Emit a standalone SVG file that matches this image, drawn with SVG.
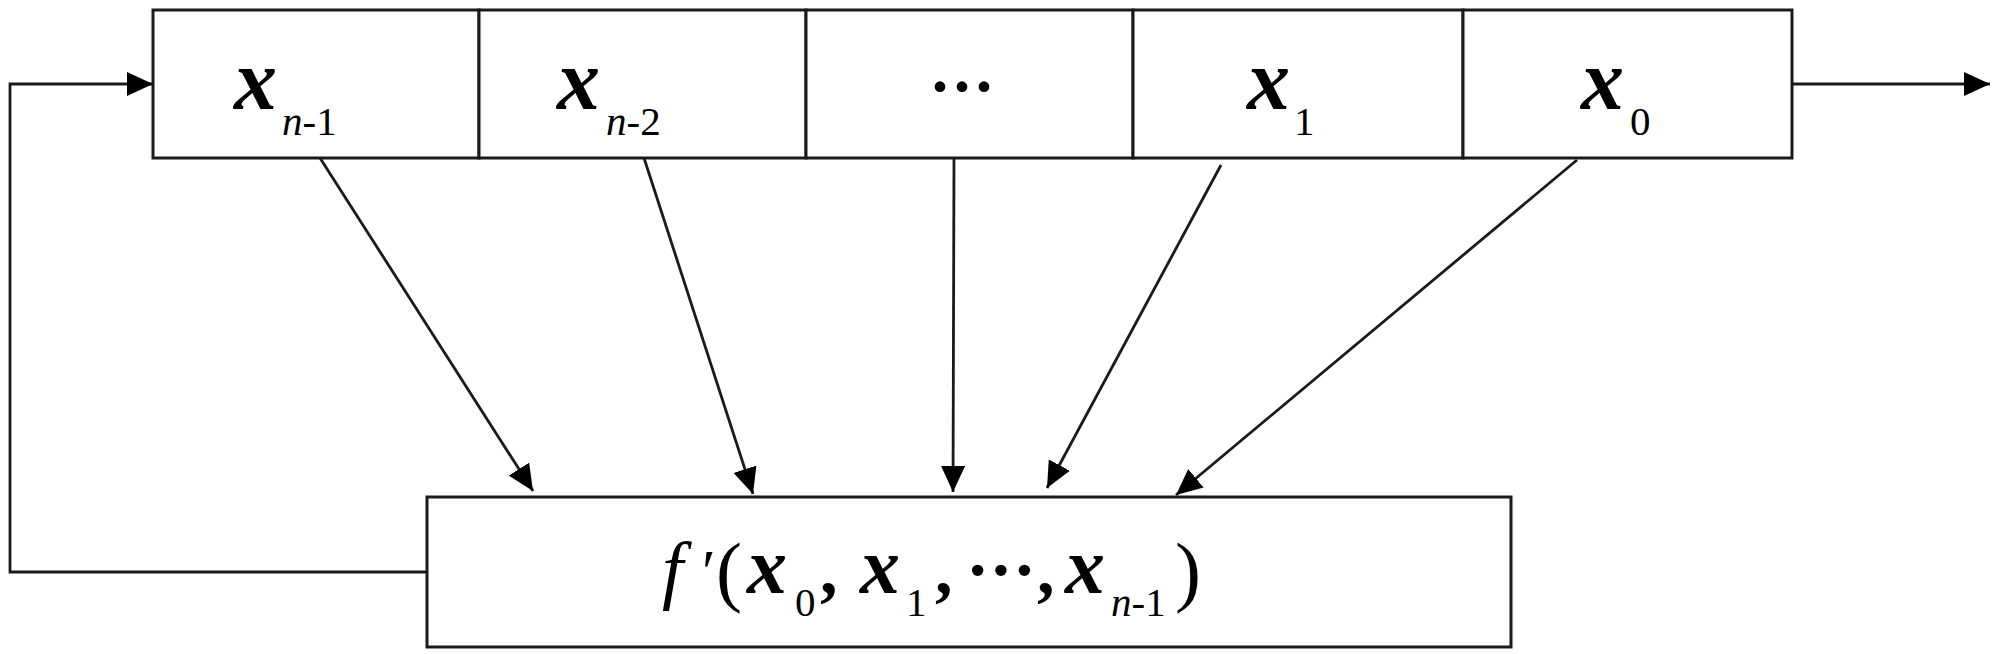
<svg xmlns="http://www.w3.org/2000/svg" width="2000" height="654" viewBox="0 0 2000 654">
<defs>
<style>
.box{fill:#fff;stroke:#1a1a1a;stroke-width:3}
.ln{fill:none;stroke:#1a1a1a;stroke-width:2.8}
</style>
<marker id="ah" viewBox="0 0 26 24" refX="26" refY="12" markerWidth="26" markerHeight="24" markerUnits="userSpaceOnUse" orient="auto">
<path d="M0,0 L26,12 L0,24 z" fill="#000"/>
</marker>
</defs>
<rect width="2000" height="654" fill="#fff"/>
<g id="register" font-family="Liberation Serif" fill="#000">
<g id="cell-xn1">
<rect class="box" x="153" y="10" width="326" height="148"/>
<text x="234" y="109" font-family="Liberation Serif" font-size="86" font-style="italic" font-weight="bold">x</text>
<text x="282" y="135" font-family="Liberation Serif" font-size="41"><tspan font-style="italic">n</tspan>-1</text>
</g>
<g id="cell-xn2">
<rect class="box" x="479" y="10" width="327" height="148"/>
<text x="557" y="109" font-family="Liberation Serif" font-size="86" font-style="italic" font-weight="bold">x</text>
<text x="606" y="135" font-family="Liberation Serif" font-size="41"><tspan font-style="italic">n</tspan>-2</text>
</g>
<g id="cell-dots">
<rect class="box" x="806" y="10" width="327" height="148"/>
<text x="962" y="108" font-family="Liberation Serif" font-size="66" font-weight="bold" text-anchor="middle">···</text>
</g>
<g id="cell-x1">
<rect class="box" x="1133" y="10" width="330" height="148"/>
<text x="1247" y="109" font-family="Liberation Serif" font-size="86" font-style="italic" font-weight="bold">x</text>
<text x="1294" y="135" font-family="Liberation Serif" font-size="41">1</text>
</g>
<g id="cell-x0">
<rect class="box" x="1463" y="10" width="329" height="148"/>
<text x="1581" y="109" font-family="Liberation Serif" font-size="86" font-style="italic" font-weight="bold">x</text>
<text x="1630" y="135" font-family="Liberation Serif" font-size="41">0</text>
</g>
</g>
<g id="function" font-family="Liberation Serif" fill="#000">
<rect class="box" x="427" y="497" width="1084" height="150"/>
<text font-family="Liberation Serif"><tspan x="662" y="595" font-size="76" font-style="italic">f</tspan><tspan x="702" y="592" font-size="62">′</tspan><tspan x="716" y="597" font-size="78">(</tspan><tspan x="747" y="593" font-size="80" font-style="italic" font-weight="bold">x</tspan><tspan x="795" y="616" font-size="41">0</tspan><tspan x="820" y="593" font-size="70" font-weight="bold">,</tspan><tspan x="860" y="593" font-size="80" font-style="italic" font-weight="bold">x</tspan><tspan x="906" y="616" font-size="41">1</tspan><tspan x="935" y="593" font-size="70" font-weight="bold">,</tspan><tspan x="966" y="593" font-size="70" font-weight="bold">···</tspan><tspan x="1037" y="593" font-size="70" font-weight="bold">,</tspan><tspan x="1065" y="593" font-size="80" font-style="italic" font-weight="bold">x</tspan><tspan x="1111" y="616" font-size="41" font-style="italic">n</tspan><tspan font-size="41">-1</tspan><tspan x="1175" y="597" font-size="78">)</tspan></text>
</g>
<g id="connectors">
<line class="ln" x1="320" y1="158" x2="533" y2="491" marker-end="url(#ah)"/>
<line class="ln" x1="644" y1="158" x2="753" y2="494" marker-end="url(#ah)"/>
<line class="ln" x1="954" y1="158" x2="953" y2="492" marker-end="url(#ah)"/>
<line class="ln" x1="1221" y1="165" x2="1047" y2="488" marker-end="url(#ah)"/>
<line class="ln" x1="1577" y1="160" x2="1176" y2="495" marker-end="url(#ah)"/>
<path class="ln" d="M427,572 H10 V84 H153" marker-end="url(#ah)"/>
<line class="ln" x1="1792" y1="84" x2="1990" y2="84" marker-end="url(#ah)"/>
</g>
</svg>
